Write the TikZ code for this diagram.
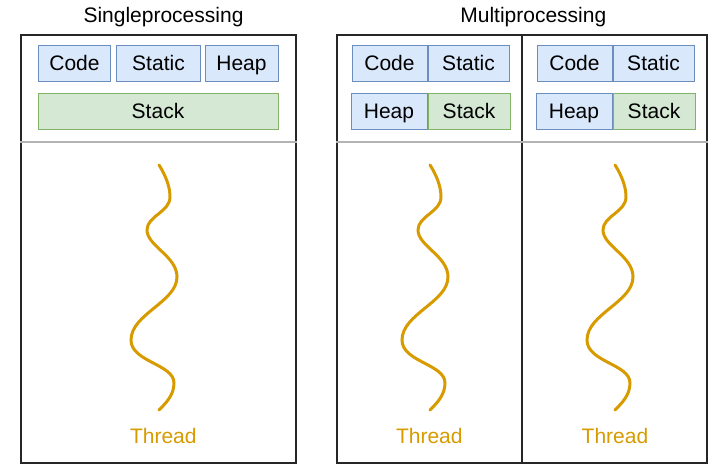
\documentclass[tikz,border=0pt]{standalone}
\usepackage{fontspec}
\setmainfont{Liberation Sans}
\usepackage{xcolor}
\definecolor{memblue}{HTML}{DAE8FC}
\definecolor{memblueline}{HTML}{6C8EBF}
\definecolor{memgreen}{HTML}{D5E8D4}
\definecolor{memgreenline}{HTML}{82B366}
\definecolor{threadcol}{HTML}{D79B00}
\definecolor{divgray}{HTML}{B3B3B3}
\usetikzlibrary{positioning}

\begin{document}
\begin{tikzpicture}[x=1pt,y=-1pt,
    every node/.style={font=\fontsize{21}{25}\selectfont},
    seg/.style={draw=memblueline,fill=memblue,line width=1pt,
        minimum height=36pt,inner sep=0pt,text height=15pt,text depth=1pt},
    stackseg/.style={seg,draw=memgreenline,fill=memgreen},
    panel/.style={draw=black!85,line width=1.2pt,minimum height=428pt,inner sep=0pt},
    divider/.style={divgray,line width=1.5pt},
    threadline/.style={threadcol,line width=3pt,line cap=round},
    threadlbl/.style={text=threadcol}]
  \useasboundingbox (0,0) rectangle (726,468);

  %% Titles
  \node (titleS) at (163.5,17) {Singleprocessing};
  \node (titleM) at (533.3,17) {Multiprocessing};

  %% Panels
  \node[panel,minimum width=275pt] (single) at (158.5,249) {};
  \node[panel,minimum width=185pt] (multiA) at (429.5,249) {};
  \node[panel,minimum width=185pt] (multiB) at (614.5,249) {};
  \foreach \p in {single,multiA,multiB}
    \draw[divider] (\p.west |- 0,142) -- (\p.east |- 0,142);

  %% Singleprocessing memory
  \node[seg,minimum width=72pt]  (codeS)   at (74.5,64)  {Code};
  \node[seg,minimum width=84pt]  (staticS) at (158.5,64) {Static};
  \node[seg,minimum width=73pt]  (heapS)   at (241.5,64) {Heap};
  \node[stackseg,minimum width=240pt] (stackS) at (158,112) {Stack};

  %% Multiprocessing memory, left process
  \node[seg,minimum width=75pt] (codeA) at (389.5,64) {Code};
  \node[seg,minimum width=81pt,right=0pt of codeA] (staticA) {Static};
  \node[seg,minimum width=76pt] (heapA) at (389,112) {Heap};
  \node[stackseg,minimum width=82pt,right=0pt of heapA] (stackA) {Stack};

  %% Multiprocessing memory, right process
  \node[seg,minimum width=75pt] (codeB) at (574.5,64) {Code};
  \node[seg,minimum width=81pt,right=0pt of codeB] (staticB) {Static};
  \node[seg,minimum width=76pt] (heapB) at (574,112) {Heap};
  \node[stackseg,minimum width=82pt,right=0pt of heapB] (stackB) {Stack};

  %% Threads
  \foreach \cx in {0,271,456}
    \draw[threadline,shift={(\cx,0)}] (159,165)
      .. controls (166,176) and (170,187) .. (170,197)
      .. controls (170,212) and (147,216) .. (147,230)
      .. controls (147,246) and (177,256) .. (177,277)
      .. controls (177,302) and (131,314) .. (131,340)
      .. controls (131,362) and (174,364) .. (174,383)
      .. controls (174,395) and (166,403) .. (159,410);
  \node[threadlbl] (thrS) at (163.3,436) {Thread};
  \node[threadlbl] (thrA) at (429.3,436) {Thread};
  \node[threadlbl] (thrB) at (615,436) {Thread};
\end{tikzpicture}
\end{document}
